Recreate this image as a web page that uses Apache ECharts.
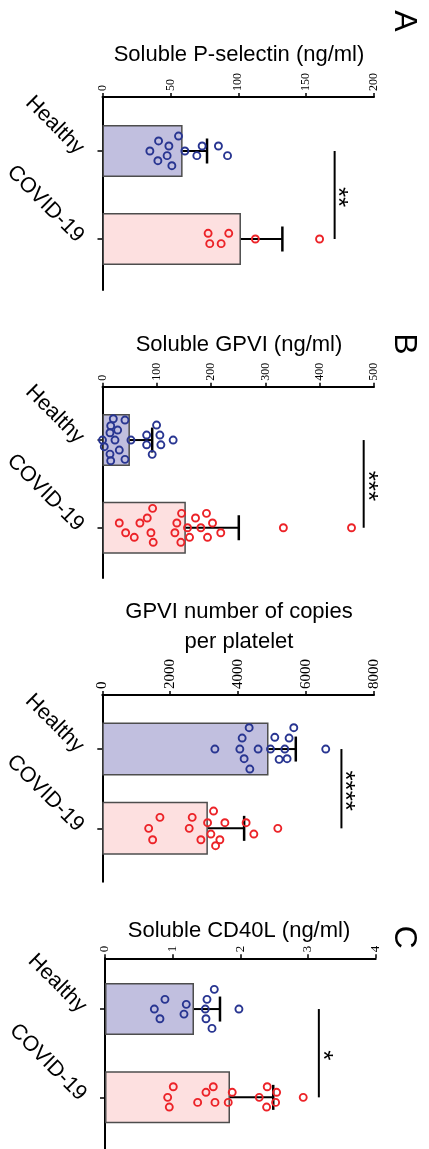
<!DOCTYPE html>
<html><head><meta charset="utf-8">
<script src="https://cdn.jsdelivr.net/npm/echarts@6/dist/echarts.min.js"></script>
<style>html,body{margin:0;padding:0;background:#fff}#c{width:429px;height:1149px}</style>
</head><body><div id="c"></div>
<script>
// ---------------- DATA ----------------
const categories = ['Healthy', 'COVID-19'];
const panelTitles = ['Soluble P-selectin (ng/ml)', 'Soluble GPVI (ng/ml)', 'GPVI number of copies\nper platelet', 'Soluble CD40L (ng/ml)'];
const panelLetters = ['A', 'B', '', 'C'];
const axisMax = [200, 500, 8000, 4];
const axisInterval = [50, 100, 2000, 1];
const barMeans = [[59, 102], [50.5, 153.5], [4894, 3109], [1.315, 1.847]];
const barSD = [[18, 30.5], [41, 97.5], [803, 1067], [0.384, 0.639]];
const sigLabels = ['**', '***', '****', '*'];
const sigX = [171, 481, 7041, 3.16];

// P-selectin
const pselHealthy = [56.0, 41.3, 48.9, 73.4, 85.4, 34.9, 60.7, 47.6, 69.5, 92.1, 40.8, 51.1];
const pselHealthyJitter = [-0.17, -0.114, -0.057, -0.057, -0.057, 0, 0, 0.053, 0.053, 0.053, 0.11, 0.167];
const pselCovid = [77.8, 93.0, 112.6, 159.9, 79.0, 87.4];
const pselCovidJitter = [-0.065, -0.065, 0, 0, 0.053, 0.053];
// Soluble GPVI
const gpviHealthy = [19.9, 41.4, 15.1, 27.9, 99.6, 13.8, 81.3, 105.7, 0, 23.0, 52.4, 130.1, 3.3, 81.3, 107.5, 30.9, 13.8, 91.5, 41.4, 15.1];
const gpviHealthyJitter = [-0.243, -0.228, -0.163, -0.114, -0.171, -0.083, -0.057, -0.057, 0, 0, 0, 0, 0.076, 0.054, 0.054, 0.114, 0.16, 0.163, 0.22, 0.236];
const gpviCovid = [92.3, 145.6, 191.5, 82.4, 171.3, 30.9, 68.9, 136.9, 202.6, 156.6, 181.1, 333.1, 458.6, 42.6, 89.2, 133.3, 217.8, 58.5, 160.3, 193.4, 93.4, 144.3];
const gpviCovidJitter = [-0.221, -0.164, -0.164, -0.111, -0.111, -0.054, -0.054, -0.054, -0.054, 0, 0, 0, 0, 0.057, 0.057, 0.057, 0.057, 0.109, 0.109, 0.109, 0.166, 0.166];
// GPVI copies per platelet
const copiesHealthy = [4324, 5638, 4118, 5079, 5500, 3315, 4050, 4588, 4953, 5374, 6579, 4176, 5206, 5441, 4344];
const copiesHealthyJitter = [-0.269, -0.269, -0.139, -0.148, -0.139, 0, 0, 0, 0, 0, 0, 0.122, 0.13, 0.122, 0.252];
const copiesCovid = [3276, 1697, 2647, 3100, 3609, 4235, 1365, 2559, 5168, 3197, 4462, 1482, 2903, 3462, 3335];
const copiesCovidJitter = [-0.218, -0.139, -0.139, -0.071, -0.071, -0.071, 0, 0, 0, 0.072, 0.072, 0.144, 0.144, 0.144, 0.219];
// Soluble CD40L
const cd40Healthy = [1.615, 0.886, 1.507, 1.201, 0.729, 1.482, 1.979, 1.167, 1.492, 0.812, 1.581];
const cd40HealthyJitter = [-0.223, -0.11, -0.11, -0.053, 0, 0, 0, 0.057, 0.11, 0.11, 0.219];
const cd40Covid = [1.009, 1.600, 2.397, 1.492, 1.880, 2.536, 0.926, 2.279, 2.929, 1.369, 1.625, 1.821, 2.521, 0.950, 2.388];
const cd40CovidJitter = [-0.12, -0.12, -0.12, -0.057, -0.057, -0.057, 0, 0, 0, 0.057, 0.057, 0.057, 0.057, 0.11, 0.11];

const pointsByPanel = [
  [[pselHealthy, pselHealthyJitter], [pselCovid, pselCovidJitter]],
  [[gpviHealthy, gpviHealthyJitter], [gpviCovid, gpviCovidJitter]],
  [[copiesHealthy, copiesHealthyJitter], [copiesCovid, copiesCovidJitter]],
  [[cd40Healthy, cd40HealthyJitter], [cd40Covid, cd40CovidJitter]]
];

// ---------------- LAYOUT / STYLE ----------------
const layouts = [
  {left: 102.5, right: 55, frameTop: 97, frameH: 193, dataTop: 107, dataH: 176, tickFont: 12, barW: 52, titleY: 55, letterY: 21},
  {left: 102.5, right: 55, frameTop: 386.7, frameH: 191.3, dataTop: 396.2, dataH: 175.4, tickFont: 12, barW: 52, titleY: 345, letterY: 344},
  {left: 102.3, right: 55, frameTop: 695, frameH: 186.7, dataTop: 709.4, dataH: 158.6, tickFont: 15, barW: 53, titleY: 627, letterY: 0},
  {left: 105, right: 53.3, frameTop: 958.3, frameH: 200, dataTop: 964.9, dataH: 176.6, tickFont: 13, barW: 52, titleY: 931, letterY: 937}
];
const barFill = ['#c1bfdf', '#fde0e0'];
const pointColor = ['#283591', '#ec2328'];
const FONT = '"Liberation Sans", Arial, sans-serif';

const grids = [], xAxes = [], yAxes = [], series = [], graphics = [];

layouts.forEach((L, i) => {
  const fg = 2 * i, dg = 2 * i + 1;
  grids.push({left: L.left, right: L.right, top: L.frameTop, height: L.frameH});
  grids.push({left: L.left, right: L.right, top: L.dataTop, height: L.dataH});
  xAxes.push({
    gridIndex: fg, type: 'value', position: 'top', min: 0, max: axisMax[i], interval: axisInterval[i],
    axisLine: {show: true, onZero: false, lineStyle: {color: '#000', width: 2}},
    axisTick: {show: true, inside: false, length: 4, lineStyle: {color: '#000', width: 1.5}},
    axisLabel: {rotate: -90, margin: 6, fontFamily: '"Liberation Serif", serif', fontSize: L.tickFont, color: '#000',
      formatter: v => String(v)},
    splitLine: {show: false}
  });
  xAxes.push({gridIndex: dg, type: 'value', min: 0, max: axisMax[i], show: false});
  yAxes.push({
    gridIndex: fg, type: 'value', min: 0, max: 1,
    axisLine: {show: true, onZero: false, lineStyle: {color: '#000', width: 2}},
    axisTick: {show: false}, axisLabel: {show: false}, splitLine: {show: false}
  });
  yAxes.push({
    gridIndex: dg, type: 'category', data: categories, inverse: true,
    axisLine: {show: false, onZero: false},
    axisTick: {show: true, alignWithLabel: true, length: 5, lineStyle: {color: '#000', width: 1.5}},
    axisLabel: {rotate: -45, margin: 22, fontSize: 21.5, fontFamily: FONT, color: '#000'},
    splitLine: {show: false}
  });

  // bars
  series.push({
    type: 'bar', xAxisIndex: dg, yAxisIndex: dg, barWidth: L.barW, z: 2,
    data: barMeans[i].map((v, k) => ({value: v, itemStyle: {color: barFill[k]}})),
    itemStyle: {borderColor: '#4d4d4d', borderWidth: 1.5}
  });

  // error bars (mean -> mean + SD)
  series.push({
    type: 'custom', xAxisIndex: dg, yAxisIndex: dg, z: 3,
    encode: {x: 0, y: 1},
    data: barMeans[i].map((m, k) => [m, k, barSD[i][k]]),
    renderItem: function (params, api) {
      const m = api.value(0), k = api.value(1), sd = api.value(2);
      const p0 = api.coord([m, k]), p1 = api.coord([m + sd, k]);
      const st = {stroke: '#000', lineWidth: 2};
      return {type: 'group', children: [
        {type: 'line', shape: {x1: p0[0], y1: p0[1], x2: p1[0], y2: p1[1]}, style: st},
        {type: 'line', shape: {x1: p1[0], y1: p1[1] - 12.5, x2: p1[0], y2: p1[1] + 12.5}, style: {stroke: '#000', lineWidth: 2.5}}
      ]};
    }
  });

  // individual points
  const pts = [];
  pointsByPanel[i].forEach((grp, k) => {
    grp[0].forEach((v, j) => pts.push([v, k, grp[1][j]]));
  });
  series.push({
    type: 'custom', xAxisIndex: dg, yAxisIndex: dg, z: 4,
    encode: {x: 0, y: 1},
    data: pts,
    renderItem: function (params, api) {
      const v = api.value(0), k = api.value(1), jit = api.value(2);
      const p = api.coord([v, k]);
      const band = api.size([0, 1])[1];
      return {type: 'circle', shape: {cx: p[0], cy: p[1] + jit * band, r: 3.5},
        style: {fill: 'none', stroke: pointColor[k], lineWidth: 1.9}};
    }
  });

  // significance bracket
  series.push({
    type: 'custom', xAxisIndex: dg, yAxisIndex: dg, z: 3,
    encode: {x: 0, y: 1},
    data: [[sigX[i], 0, 1]],
    renderItem: function (params, api) {
      const x = api.value(0);
      const p0 = api.coord([x, 0]), p1 = api.coord([x, 1]);
      return {type: 'group', children: [
        {type: 'line', shape: {x1: p0[0], y1: p0[1], x2: p1[0], y2: p1[1]}, style: {stroke: '#000', lineWidth: 2}},
        {type: 'text', x: p0[0] + 3, y: (p0[1] + p1[1]) / 2 + 2, rotation: -Math.PI / 2,
          style: {text: sigLabels[i], font: '26px ' + FONT, fill: '#000', align: 'center', verticalAlign: 'middle'}}
      ]};
    }
  });

  // panel titles and letters
  graphics.push({type: 'text', x: 239, y: L.titleY, style: {text: panelTitles[i], font: '22px ' + FONT, fill: '#000', align: 'center', verticalAlign: 'middle', lineHeight: 30}});
  if (panelLetters[i]) {
    graphics.push({type: 'text', x: 404, y: L.letterY, rotation: -Math.PI / 2,
      style: {text: panelLetters[i], font: '32px ' + FONT, fill: '#000', align: 'center', verticalAlign: 'middle'}});
  }
});

const chart = echarts.init(document.getElementById('c'), null, {renderer: 'canvas', width: 429, height: 1149});
chart.setOption({
  animation: false,
  backgroundColor: '#fff',
  grid: grids, xAxis: xAxes, yAxis: yAxes, series: series,
  graphic: graphics
});
</script>
</body></html>
